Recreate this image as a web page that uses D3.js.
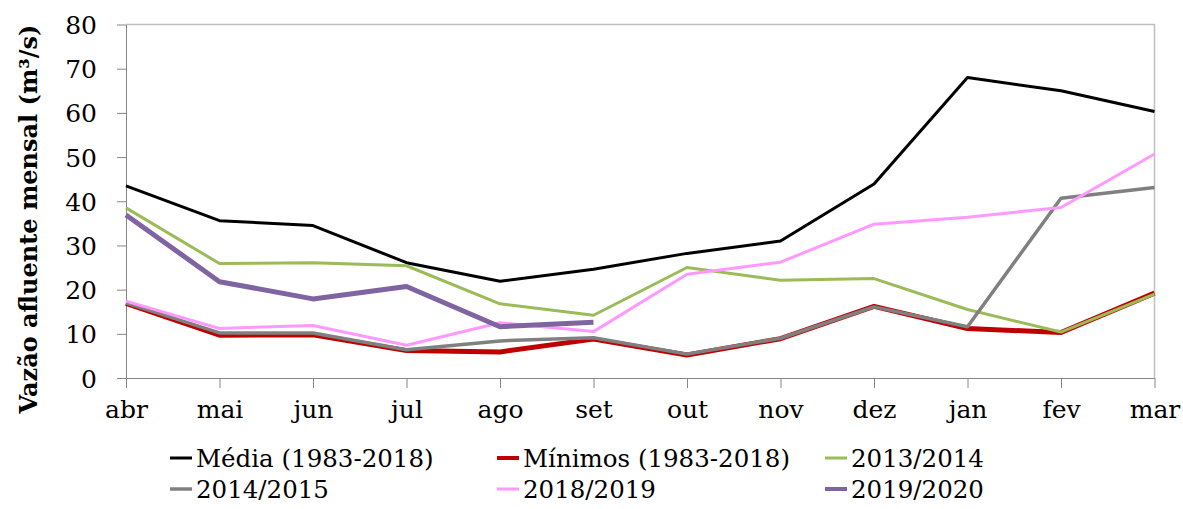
<!DOCTYPE html>
<html lang="pt">
<head>
<meta charset="utf-8">
<title>Vazão afluente mensal</title>
<script src="https://d3js.org/d3.v7.min.js"></script>
<style>
  body { margin: 0; background: #fff; }
  text { font-family: "DejaVu Serif", serif; fill: #000; }
</style>
</head>
<body>
<div id="chart"></div>
<script>
// months and tick labels
var months = ["abr", "mai", "jun", "jul", "ago", "set", "out", "nov", "dez", "jan", "fev", "mar"]
var yTicks = [0, 10, 20, 30, 40, 50, 60, 70, 80]

// series values (m3/s)
var media    = [43.5, 35.6, 34.5, 26.1, 21.9, 24.6, 28.2, 31.0, 43.9, 68.0, 65.0, 60.3]
var minimos  = [16.9,  9.7,  9.8,  6.2,  5.9,  8.8,  5.2,  8.9, 16.2, 11.2, 10.3, 19.2]
var s2013    = [38.5, 25.9, 26.1, 25.4, 16.8, 14.2, 25.0, 22.1, 22.5, 15.5, 10.4, 19.0]
var s2014    = [17.0, 10.2, 10.2,  6.4,  8.4,  9.1,  5.4,  9.0, 16.1, 11.6, 40.7, 43.1]
var s2018    = [17.4, 11.2, 11.9,  7.4, 12.5, 10.5, 23.5, 26.2, 34.8, 36.4, 38.6, 50.7]
var s2019    = [36.9, 21.8, 17.9, 20.7, 11.6, 12.6, null, null, null, null, null, null]

var seriesNames = ["Média (1983-2018)", "Mínimos (1983-2018)", "2013/2014", "2014/2015", "2018/2019", "2019/2020"]
var seriesData = [media, minimos, s2013, s2014, s2018, s2019]
var colors = ["#000000", "#c00000", "#9bbb59", "#808080", "#ff99ff", "#8064a2"]
var widths = [3, 5, 3, 3.5, 3, 5]

var width = 1183, height = 509
var margin = { top: 24.5, right: 28.5, bottom: 131, left: 126 }

var svg = d3.select("#chart").append("svg")
    .attr("width", width)
    .attr("height", height)

var x = d3.scalePoint()
    .domain(months)
    .range([margin.left, width - margin.right])

var y = d3.scaleLinear()
    .domain([0, 80])
    .range([height - margin.bottom, margin.top])

// plot area border (top and right)
svg.append("path")
    .attr("d", "M" + margin.left + "," + margin.top + "H" + (width - margin.right) + "V" + (height - margin.bottom))
    .attr("fill", "none")
    .attr("stroke", "#bfbfbf")
    .attr("stroke-width", 1.5)

// y axis
var yAxis = svg.append("g")
    .attr("transform", "translate(" + margin.left + ",0)")
    .call(d3.axisLeft(y).tickValues(yTicks).tickSize(9).tickPadding(20).tickSizeOuter(0))
yAxis.selectAll("path, line").attr("stroke", "#868686")
yAxis.selectAll("text").style("font-size", "25px").attr("dy", "0.36em")

// x axis
var xAxis = svg.append("g")
    .attr("transform", "translate(0," + y(0) + ")")
    .call(d3.axisBottom(x).tickSize(10).tickPadding(12).tickSizeOuter(0))
xAxis.selectAll("path, line").attr("stroke", "#868686")
xAxis.selectAll("text").style("font-size", "25px")

// y axis title
svg.append("text")
    .attr("transform", "translate(37,219) rotate(-90)")
    .attr("text-anchor", "middle")
    .style("font-size", "24px")
    .style("font-weight", "bold")
    .text("Vazão afluente mensal (m³/s)")

// lines
var line = d3.line()
    .defined(function (d) { return d != null })
    .x(function (d, i) { return x(months[i]) })
    .y(function (d) { return y(d) })

seriesData.forEach(function (s, k) {
    svg.append("path")
        .datum(s)
        .attr("d", line)
        .attr("fill", "none")
        .attr("stroke", colors[k])
        .attr("stroke-width", widths[k])
        .attr("stroke-linejoin", "round")
})

// legend, 3 columns x 2 rows
var legX = [170, 497, 825]
var legY = [458, 489]
seriesNames.forEach(function (name, k) {
    var cx = legX[k % 3], cy = legY[Math.floor(k / 3)]
    svg.append("line")
        .attr("x1", cx).attr("x2", cx + 22)
        .attr("y1", cy).attr("y2", cy)
        .attr("stroke", colors[k])
        .attr("stroke-width", Math.min(widths[k], 4))
    svg.append("text")
        .attr("x", cx + 26)
        .attr("y", cy + 9)
        .style("font-size", "24.5px")
        .text(name)
})
</script>
</body>
</html>
